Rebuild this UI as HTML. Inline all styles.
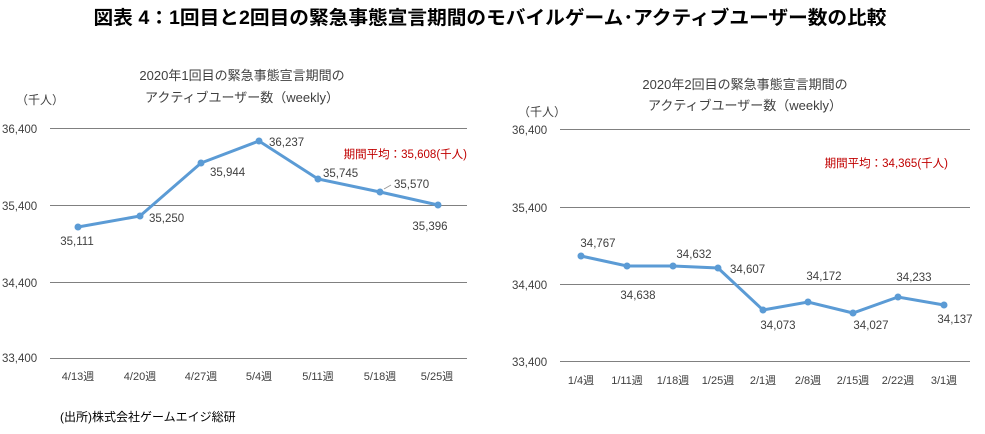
<!DOCTYPE html><html><head><meta charset="utf-8"><style>
body{margin:0;background:#fff;width:985px;height:429px;overflow:hidden}
svg text{font-family:"Liberation Sans","Noto Sans CJK JP",sans-serif;fill:#404040}
</style></head><body>
<svg width="985" height="429" viewBox="0 0 985 429">
<text x="490" y="24" text-anchor="middle" font-size="19" font-weight="bold" textLength="793" lengthAdjust="spacingAndGlyphs" style="fill:#000">図表 4：1回目と2回目の緊急事態宣言期間のモバイルゲーム･アクティブユーザー数の比較</text>
<!-- left -->
<g font-size="11.5">
<text x="242" y="80" text-anchor="middle" font-size="13">2020年1回目の緊急事態宣言期間の</text>
<text x="242" y="102" text-anchor="middle" font-size="13">アクティブユーザー数（weekly）</text>
<text x="16" y="104" font-size="12">（千人）</text>
<g stroke="#808080" stroke-width="1"><line x1="50" y1="128.5" x2="467" y2="128.5"/><line x1="50" y1="205.5" x2="467" y2="205.5"/><line x1="50" y1="282.5" x2="467" y2="282.5"/><line x1="50" y1="358.5" x2="467" y2="358.5"/></g>
<text x="2" y="133">36,400</text><text x="2" y="210">35,400</text><text x="2" y="287">34,400</text><text x="2" y="362">33,400</text>
<g text-anchor="middle" font-size="11"><text x="78" y="380">4/13週</text><text x="140" y="380">4/20週</text><text x="201" y="380">4/27週</text><text x="259" y="380">5/4週</text><text x="318" y="380">5/11週</text><text x="380" y="380">5/18週</text><text x="437" y="380">5/25週</text></g>
<polyline points="78,227 140,216 201,163 259,141 318,179 380,192 438,205" fill="none" stroke="#5b9bd5" stroke-width="3"/>
<g fill="#5b9bd5"><circle cx="78" cy="227" r="3.5"/><circle cx="140" cy="216" r="3.5"/><circle cx="201" cy="163" r="3.5"/><circle cx="259" cy="141" r="3.5"/><circle cx="318" cy="179" r="3.5"/><circle cx="380" cy="192" r="3.5"/><circle cx="438" cy="205" r="3.5"/></g>
<text x="77" y="245" text-anchor="middle">35,111</text><text x="149" y="222">35,250</text><text x="210" y="176">35,944</text><text x="269" y="146">36,237</text><text x="323" y="177">35,745</text><text x="394" y="188">35,570</text><text x="430" y="230" text-anchor="middle">35,396</text>
<polyline points="384,189 391,185" stroke="#999" fill="none"/>
<text x="467" y="158" text-anchor="end" style="fill:#c00000">期間平均：35,608(千人)</text>
<text x="60" y="421" font-size="12" style="fill:#000">(出所)株式会社ゲームエイジ総研</text>
</g>
<!-- right -->
<g font-size="11.5">
<text x="745" y="89" text-anchor="middle" font-size="13">2020年2回目の緊急事態宣言期間の</text>
<text x="745" y="110" text-anchor="middle" font-size="13">アクティブユーザー数（weekly）</text>
<text x="518" y="116" font-size="12">（千人）</text>
<g stroke="#808080" stroke-width="1"><line x1="560" y1="129.5" x2="970" y2="129.5"/><line x1="560" y1="207.5" x2="970" y2="207.5"/><line x1="560" y1="284.5" x2="970" y2="284.5"/><line x1="560" y1="361.5" x2="970" y2="361.5"/></g>
<text x="512" y="134">36,400</text><text x="512" y="212">35,400</text><text x="512" y="289">34,400</text><text x="512" y="366">33,400</text>
<g text-anchor="middle" font-size="11"><text x="581" y="384">1/4週</text><text x="627" y="384">1/11週</text><text x="673" y="384">1/18週</text><text x="718" y="384">1/25週</text><text x="763" y="384">2/1週</text><text x="808" y="384">2/8週</text><text x="853" y="384">2/15週</text><text x="898" y="384">2/22週</text><text x="944" y="384">3/1週</text></g>
<polyline points="581,256 627,266 673,266 718,268 763,310 808,302 853,313 898,297 944,305" fill="none" stroke="#5b9bd5" stroke-width="3"/>
<g fill="#5b9bd5"><circle cx="581" cy="256" r="3.5"/><circle cx="627" cy="266" r="3.5"/><circle cx="673" cy="266" r="3.5"/><circle cx="718" cy="268" r="3.5"/><circle cx="763" cy="310" r="3.5"/><circle cx="808" cy="302" r="3.5"/><circle cx="853" cy="313" r="3.5"/><circle cx="898" cy="297" r="3.5"/><circle cx="944" cy="305" r="3.5"/></g>
<text x="598" y="247" text-anchor="middle">34,767</text><text x="638" y="299" text-anchor="middle">34,638</text><text x="694" y="258" text-anchor="middle">34,632</text><text x="730" y="273">34,607</text><text x="778" y="329" text-anchor="middle">34,073</text><text x="824" y="280" text-anchor="middle">34,172</text><text x="871" y="329" text-anchor="middle">34,027</text><text x="914" y="281" text-anchor="middle">34,233</text><text x="955" y="323" text-anchor="middle">34,137</text>
<text x="948" y="167" text-anchor="end" style="fill:#c00000">期間平均：34,365(千人)</text>
</g>
</svg></body></html>
